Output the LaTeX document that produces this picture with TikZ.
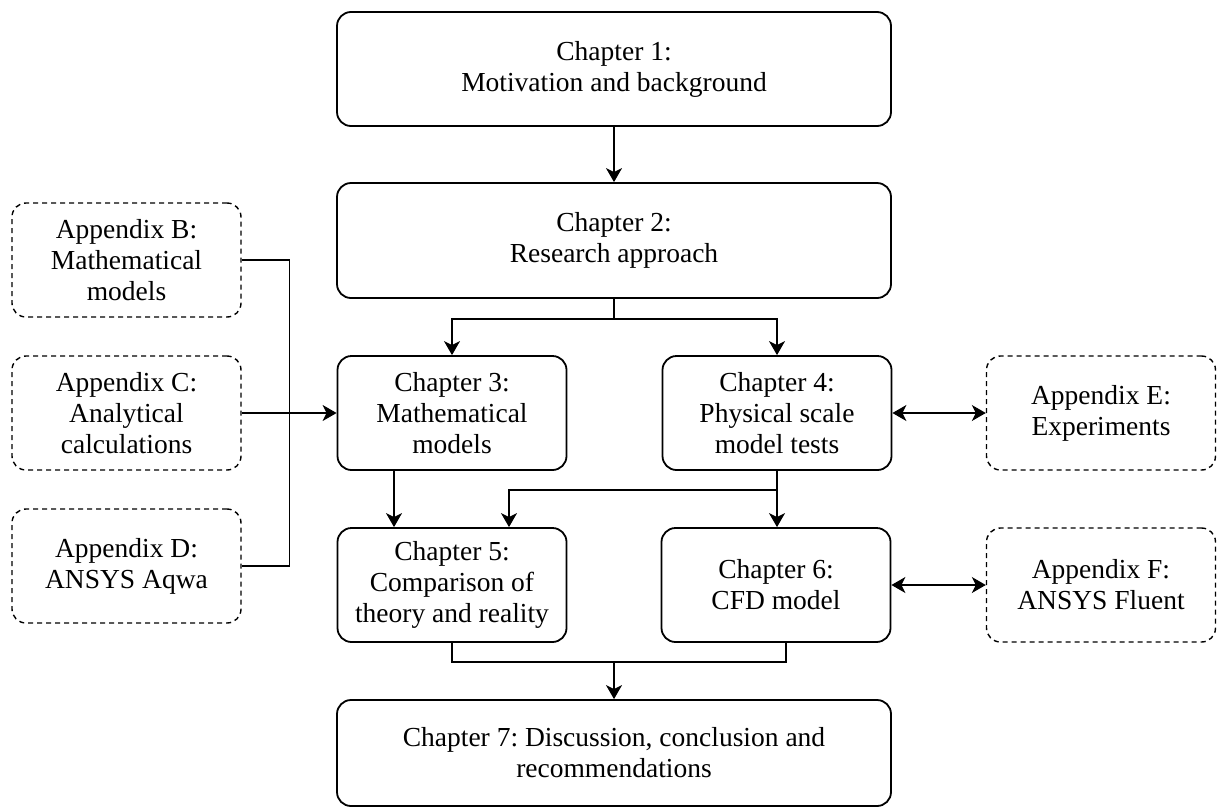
\documentclass[tikz,border=0pt]{standalone}
\usepackage{fontspec}
\setmainfont{Liberation Serif}
\usetikzlibrary{arrows.meta}
\frenchspacing

\begin{document}
\begin{tikzpicture}[x=1pt,y=-1pt,
  chap/.style={draw, line width=1.8pt, rounded corners=14pt, align=center,
    inner sep=0pt, font=\fontsize{27.5}{31}\selectfont},
  annexe/.style={chap, line width=1.4pt, dash pattern=on 5pt off 4pt,
    minimum width=229pt, minimum height=114pt},
  petit/.style={chap, minimum width=229pt, minimum height=114pt},
  large/.style={chap, minimum width=554pt},
  lien/.style={line width=1.5pt},
  fleche/.style={lien, -{Stealth[length=14pt,width=16pt,inset=4pt]}},
  double/.style={lien, {Stealth[length=14pt,width=16pt,inset=4pt]}-{Stealth[length=14pt,width=16pt,inset=4pt]}}]

\useasboundingbox (0,0) rectangle (1217,809);

% Chapitres principaux
\node[large, minimum height=114pt] (ch1) at (614,69) {Chapter 1:\\Motivation and background};
\node[large, minimum height=115pt] (ch2) at (614,240.5) {Chapter 2:\\Research approach};

\node[petit] (ch3) at (452,413) {Chapter 3:\\Mathematical\\models};
\node[petit] (ch4) at (777,413) {Chapter 4:\\Physical scale\\model tests};

\node[petit] (ch5) at (452,585) {Chapter 5:\\Comparison of\\theory and reality};
\node[petit] (ch6) at (776,585) {Chapter 6:\\CFD model};

\node[large, minimum height=106pt] (ch7) at (614,753) {Chapter 7: Discussion, conclusion and\\recommendations};

% Annexes gauche
\node[annexe] (appB) at (126.5,260) {Appendix B:\\Mathematical\\models};
\node[annexe] (appC) at (126.5,413) {Appendix C:\\Analytical\\calculations};
\node[annexe] (appD) at (126.5,566) {Appendix D:\\ANSYS Aqwa};

% Annexes droite
\node[annexe] (appE) at (1101,413) {Appendix E:\\Experiments};
\node[annexe] (appF) at (1101,585) {Appendix F:\\ANSYS Fluent};

% Liaisons
\draw[fleche] (ch1) -- (ch2);
\draw[fleche] (ch2.south) -- ++(0,20) -| (ch3.north);
\draw[fleche] (ch2.south) -- ++(0,20) -| (ch4.north);

\draw[lien] (appB.east) -- ++(48,0) |- (appD.east);
\draw[fleche] (appC) -- (ch3);

\draw[double] (ch4) -- (appE);
\draw[double] (ch6) -- (appF);

\draw[fleche] ([xshift=-58pt]ch3.south) -- ([xshift=-58pt]ch5.north);
\draw[fleche] (ch4.south) -- (ch4.south |- ch6.north);
\draw[fleche] (ch4.south) -- ++(0,19) -| ([xshift=57pt]ch5.north);

\coordinate (jonction) at (614,662);
\draw[lien] (ch5.south) |- (jonction) -| ([xshift=10pt]ch6.south);
\draw[fleche] (jonction) -- (ch7.north);

\end{tikzpicture}
\end{document}
